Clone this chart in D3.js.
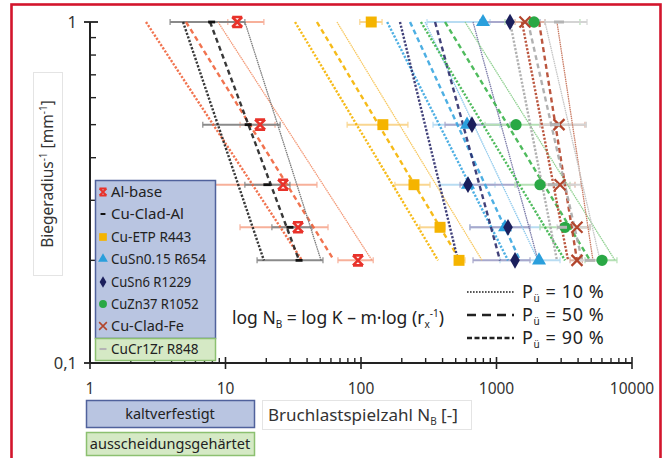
<!DOCTYPE html>
<html><head><meta charset="utf-8">
<script src="https://cdn.jsdelivr.net/npm/d3@7"></script>
<style>body{margin:0;background:#fff} svg{display:block;font-family:"Noto Sans","DejaVu Sans",sans-serif}</style>
</head><body>
<svg id="chart" width="667" height="458"></svg>
<script>
// Inverse bend radius levels [1/mm] (radii 1..5 mm)
const bendLevels = [1, 0.5, 1/3, 0.25, 0.2];
const seriesNames = ["Al-base","Cu-Clad-Al","Cu-ETP R443","CuSn0.15 R654","CuSn6 R1229","CuZn37 R1052","Cu-Clad-Fe","CuCr1Zr R848"];
// mean cycles to failure per bend level
const meanN = [
  [12.2, 18.0, 26.6, 34.3, 95],
  [7.9, 14.7, 20.2, 29.9, 34.9],
  [119, 145, 246, 383, 529],
  [795, 606, 616, 1156, 2060],
  [1259, 659, 616, 1216, 1370],
  [1892, 1393, 2095, 3204, 6010],
  [1622, 2893, 2943, 3927, 3927],
  [2893, 2704, 2612, 3044, 4898]
];
// scatter range (min / max) per bend level
const minN = [
  [10.4, 12.8, 6.7, 12.8, 67.6],
  [3.9, 6.8, 13.9, 22.0, 17.1],
  [98, 79, 178, 272, 494],
  [307, 340, 383, 637, 1061],
  [755, 417, 538, 637, 671],
  [1156, 823, 1370, 2095, 4498],
  [1370, 2095, 2280, 3204, 3487],
  [2280, 2095, 2280, 2800, 3796]
];
const maxN = [
  [19.2, 23.2, 47.3, 57.1, 123],
  [13.9, 25.3, 29.9, 43.5, 52.4],
  [143, 222, 323, 417, 586],
  [896, 1061, 975, 2095, 2943],
  [2095, 1259, 1416, 1767, 1767],
  [4130, 2943, 3487, 4898, 7745],
  [2280, 4498, 3796, 4898, 4300],
  [4656, 4600, 4200, 4898, 6200]
];
// fitted lines log N = log K - m log(1/r): N at 1/r = 1 and at 1/r = 0.2
const fitP90 = [[2.59, 36.7],[4.86, 19.2],[32.6, 370],[156, 1216],[194, 520],[277, 3204],[1542, 3373],[1259, 2794]];
const fitP50 = [[5.11, 63.2],[7.69, 34.9],[47.3, 538],[230, 1490],[352, 1061],[417, 4898],[2060, 3927],[1708, 4276]];
const fitP10 = [[8.81, 120.5],[13.9, 50.7],[66.5, 782],[297, 2024],[671, 2024],[586, 7495],[2794, 5152],[2280, 5807]];
const xTicks = [1, 10, 100, 1000, 10000];
const yTicks = [0.1, 1];
const yTickLabels = ["0,1", "1"];

// styling
const markColor = ["#e8322a","#111111","#f5b400","#2a9fdc","#1b1f5c","#2aa845","#b2452c","#b4b4b4"];
const lineColor = ["#f0643c","#222222","#f5b400","#3aa6e0","#2c2c6c","#3cb44b","#b4442a","#a8a8a8"];
const thinColor = ["#f39a78","#7a7a7a","#f7c860","#8cc8ec","#7a7aa8","#8fd090","#c97a62","#c4c4c4"];
const barColor  = ["#f7b09a","#8a8a8a","#f9d690","#b8dcf2","#a8a8cc","#b4e0b4","#dcb0a0","#d4d4d4"];

const svg = d3.select("#chart");
const x = d3.scaleLog().domain([1, 10000]).range([90, 632]);
const y = d3.scaleLog().domain([0.1, 1]).range([363, 22]);

// frame
svg.append("rect").attr("x", 11.5).attr("y", 4.5).attr("width", 649).attr("height", 470)
  .attr("fill", "none").attr("stroke", "#d3152c").attr("stroke-width", 2.6);

// y label box
svg.append("rect").attr("x", 33.5).attr("y", 72.5).attr("width", 29).attr("height", 203)
  .attr("fill", "#fff").attr("stroke", "#e4e4e4");
const yl = svg.append("text").attr("transform", "translate(53,174) rotate(-90)")
  .attr("text-anchor", "middle").attr("font-size", 15.5).attr("fill", "#333");
yl.append("tspan").text("Biegeradius");
yl.append("tspan").attr("font-size", 10).attr("dy", -6).text("-1");
yl.append("tspan").attr("dy", 6).text(" [mm");
yl.append("tspan").attr("font-size", 10).attr("dy", -6).text("-1");
yl.append("tspan").attr("dy", 6).text("]");

// axes
const axisG = svg.append("g").attr("stroke", "#222");
axisG.append("line").attr("x1", x(1)).attr("x2", x(10000)).attr("y1", y(0.1)).attr("y2", y(0.1)).attr("stroke-width", 2);
axisG.append("line").attr("x1", x(1)).attr("x2", x(1)).attr("y1", y(0.1)).attr("y2", y(1)).attr("stroke-width", 2);
const xMinor = [];
for (let d = 1; d < 10000; d *= 10) for (let k = 2; k <= 9; k++) xMinor.push(d * k);
axisG.selectAll(".xm").data(xMinor).join("line")
  .attr("x1", d => x(d)).attr("x2", d => x(d)).attr("y1", y(0.1)).attr("y2", y(0.1) - 5).attr("stroke-width", 1.4);
axisG.selectAll(".xM").data(xTicks).join("line")
  .attr("x1", d => x(d)).attr("x2", d => x(d)).attr("y1", y(0.1) - 6).attr("y2", y(0.1) + 6).attr("stroke-width", 1.6);
const yMinor = [0.2, 0.3, 0.4, 0.5, 0.6, 0.7, 0.8, 0.9];
axisG.selectAll(".ym").data(yMinor).join("line")
  .attr("x1", x(1)).attr("x2", x(1) + 6).attr("y1", d => y(d)).attr("y2", d => y(d)).attr("stroke-width", 1.4);
axisG.selectAll(".yM").data(yTicks).join("line")
  .attr("x1", x(1) - 6).attr("x2", x(1) + 8).attr("y1", d => y(d)).attr("y2", d => y(d)).attr("stroke-width", 1.8);

svg.selectAll(".xl").data(xTicks).join("text")
  .attr("x", d => x(d)).attr("y", 394).attr("text-anchor", "middle")
  .attr("font-size", 15.5).attr("fill", "#333").text(d => d);
svg.selectAll(".yl").data(yTicks).join("text")
  .attr("x", 77).attr("y", d => y(d) + 6).attr("text-anchor", "end")
  .attr("font-size", 16.5).attr("fill", "#333").text((d, i) => yTickLabels[i]);

// scatter ranges
const bars = svg.append("g");
seriesNames.forEach((s, i) => {
  bendLevels.forEach((b, j) => {
    const g = bars.append("g").attr("stroke", barColor[i]).attr("stroke-width", 2);
    g.append("line").attr("x1", x(minN[i][j])).attr("x2", x(maxN[i][j])).attr("y1", y(b)).attr("y2", y(b));
    [minN[i][j], maxN[i][j]].forEach(v => g.append("line").attr("x1", x(v)).attr("x2", x(v))
      .attr("y1", y(b) - 3).attr("y2", y(b) + 3).attr("stroke-width", 1.2));
  });
});

// fitted survival-probability lines
const fitLine = d3.line().x(d => x(d[0])).y(d => y(d[1]));
const lines = svg.append("g").attr("fill", "none");
seriesNames.forEach((s, i) => {
  lines.append("path").attr("d", fitLine([[fitP90[i][0], 1], [fitP90[i][1], 0.2]]))
    .attr("stroke", lineColor[i]).attr("stroke-width", 2.4).attr("stroke-dasharray", "2.2,1.6").attr("opacity", 0.9);
  lines.append("path").attr("d", fitLine([[fitP50[i][0], 1], [fitP50[i][1], 0.2]]))
    .attr("stroke", lineColor[i]).attr("stroke-width", 2.4).attr("stroke-dasharray", "5,3.5").attr("opacity", 0.9);
  lines.append("path").attr("d", fitLine([[fitP10[i][0], 1], [fitP10[i][1], 0.2]]))
    .attr("stroke", thinColor[i]).attr("stroke-width", 1.3).attr("stroke-dasharray", "1.5,0.7");
});

// marker shapes
function drawMarker(g, i, cx, cy, k) {
  const c = markColor[i];
  if (i === 0) {
    const r = 5 * k;
    g.append("path").attr("transform", `translate(${cx},${cy})`)
      .attr("d", `M${-r},${-r}L${r},${-r}M${-r},${r}L${r},${r}M${-r},${-r}L${r},${r}M${r},${-r}L${-r},${r}`)
      .attr("stroke", c).attr("stroke-width", 2.6 * k).attr("fill", "none");
  } else if (i === 1) {
    g.append("line").attr("x1", cx - 3.5 * k).attr("x2", cx + 3.5 * k).attr("y1", cy).attr("y2", cy)
      .attr("stroke", c).attr("stroke-width", 2.8 * k);
  } else if (i === 6) {
    const r = 5.5 * k;
    g.append("path").attr("transform", `translate(${cx},${cy})`)
      .attr("d", `M${-r},${-r}L${r},${r}M${r},${-r}L${-r},${r}`)
      .attr("stroke", c).attr("stroke-width", 2.2 * k).attr("fill", "none");
  } else if (i === 7) {
    g.append("line").attr("x1", cx - 5 * k).attr("x2", cx + 5 * k).attr("y1", cy).attr("y2", cy)
      .attr("stroke", c).attr("stroke-width", 3 * k);
  } else {
    const types = {2: [d3.symbolSquare, 120], 3: [d3.symbolTriangle, 85], 4: [d3.symbolDiamond, 80], 5: [d3.symbolCircle, 100]};
    const [t, a] = types[i];
    g.append("path").attr("transform", `translate(${cx},${cy})`)
      .attr("d", d3.symbol().type(t).size(a * k * k)()).attr("fill", c);
  }
}
const marks = svg.append("g");
seriesNames.forEach((s, i) => {
  bendLevels.forEach((b, j) => drawMarker(marks, i, x(meanN[i][j]), y(b), 1));
});

// legend
const leg = svg.append("g");
leg.append("rect").attr("x", 95.5).attr("y", 180.5).attr("width", 120).attr("height", 158)
  .attr("fill", "#b9c5e1").attr("stroke", "#50629c").attr("stroke-width", 1.5);
leg.append("rect").attr("x", 95.5).attr("y", 338.5).attr("width", 120).attr("height", 22)
  .attr("fill", "#d5e9c5").attr("stroke", "#8cc070").attr("stroke-width", 1.5);
const legRows = [192, 214, 237, 259, 282, 304, 326, 349];
seriesNames.forEach((s, i) => {
  drawMarker(leg, i, 103, legRows[i], 0.7);
  leg.append("text").attr("x", 111).attr("y", legRows[i] + 5).attr("font-size", 14)
    .attr("fill", "#222").attr("textLength", s.length * 7.3).attr("lengthAdjust", "spacingAndGlyphs").text(s);
});

// formula
const f = svg.append("text").attr("x", 232).attr("y", 324).attr("font-size", 17.5).attr("fill", "#222");
f.append("tspan").text("log N");
f.append("tspan").attr("font-size", 10).attr("dy", 4).text("B");
f.append("tspan").attr("dy", -4).text(" = log K \u2013 m\u00b7log (r");
f.append("tspan").attr("font-size", 10).attr("dy", 4).text("x");
f.append("tspan").attr("font-size", 10).attr("dy", -11).text("-1");
f.append("tspan").attr("dy", 7).text(")");

// survival probability key
const pLevels = ["10", "50", "90"];
const pDash = [["1.6,1.4", 1.6], ["9,6", 2.6], ["5,2.5", 2.6]];
const pRows = [292, 315, 338];
pLevels.forEach((p, i) => {
  svg.append("line").attr("x1", 467).attr("x2", 514).attr("y1", pRows[i]).attr("y2", pRows[i])
    .attr("stroke", "#222").attr("stroke-dasharray", pDash[i][0]).attr("stroke-width", pDash[i][1]);
  const t = svg.append("text").attr("x", 522).attr("y", pRows[i] + 6).attr("font-size", 18).attr("fill", "#222")
    .attr("letter-spacing", 0.6);
  t.append("tspan").text("P");
  t.append("tspan").attr("font-size", 10).attr("dy", 4).text("\u00fc");
  t.append("tspan").attr("dy", -4).text(` = ${p} %`);
});

// x axis title
svg.append("rect").attr("x", 262.5).attr("y", 400.5).attr("width", 209).attr("height", 29)
  .attr("fill", "#fff").attr("stroke", "#e4e4e4");
const xt = svg.append("text").attr("x", 268).attr("y", 421).attr("font-size", 17).attr("fill", "#333");
xt.append("tspan").text("Bruchlastspielzahl N");
xt.append("tspan").attr("font-size", 10).attr("dy", 4).text("B");
xt.append("tspan").attr("dy", -4).text(" [-]");

// material category boxes
svg.append("rect").attr("x", 86.5).attr("y", 400.5).attr("width", 168).attr("height", 27)
  .attr("fill", "#b9c5e1").attr("stroke", "#50629c").attr("stroke-width", 1.5);
svg.append("text").attr("x", 170).attr("y", 419).attr("text-anchor", "middle").attr("font-size", 14.5)
  .attr("fill", "#222").text("kaltverfestigt");
svg.append("rect").attr("x", 86.5).attr("y", 432.5).attr("width", 168).attr("height", 23)
  .attr("fill", "#d5e9c5").attr("stroke", "#8cc070").attr("stroke-width", 1.5);
svg.append("text").attr("x", 170).attr("y", 449).attr("text-anchor", "middle").attr("font-size", 14.5)
  .attr("fill", "#222").text("ausscheidungsgehärtet");
</script>
</body></html>
